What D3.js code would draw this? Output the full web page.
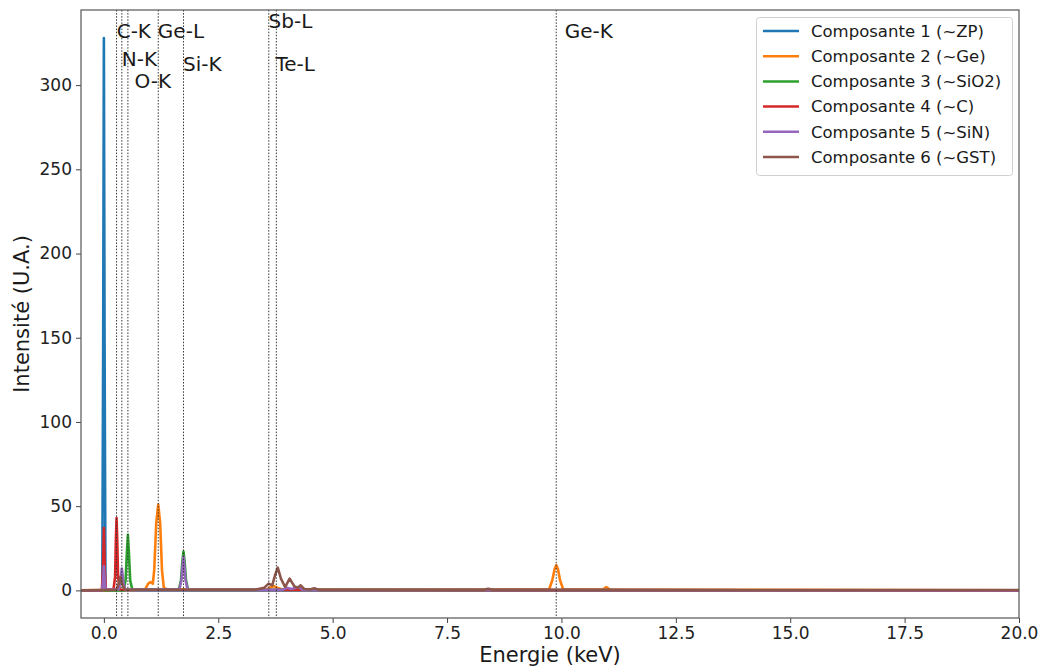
<!DOCTYPE html>
<html>
<head>
<meta charset="utf-8">
<script src="https://cdn.jsdelivr.net/npm/d3@7"></script>
<style>
  html, body { margin: 0; padding: 0; background: #fff; }
  svg { display: block; font-family: "DejaVu Sans", sans-serif; }
</style>
</head>
<body>
<svg id="chart" width="1043" height="671"></svg>
<script>
// ---------------- DATA ----------------
const seriesNames = [
  "Composante 1 (~ZP)",
  "Composante 2 (~Ge)",
  "Composante 3 (~SiO2)",
  "Composante 4 (~C)",
  "Composante 5 (~SiN)",
  "Composante 6 (~GST)"
];

// Component 1 (~ZP)
const energy1 = [-0.5, -0.035, -0.015, 0.0, 0.015, 0.035, 20.0];
const intensity1 = [0, 0, 150, 328, 150, 0, 0];

// Component 2 (~Ge)
const energy2 = [-0.5, 0.6, 0.9, 0.97, 1.02, 1.07, 1.1, 1.145, 1.188, 1.23, 1.27, 1.31, 1.4, 3.55, 3.65, 3.72, 3.8, 3.9, 8.0, 9.73, 9.8, 9.85, 9.886, 9.925, 9.97, 10.04, 10.9, 10.98, 11.06, 20.0];
const intensity2 = [0, 0.3, 0.6, 4, 5, 4, 12, 40, 51, 40, 12, 1.5, 0.6, 0.5, 2, 2.5, 1.5, 0.5, 0.4, 0.5, 6, 12.5, 15, 12.5, 6, 0.5, 0.5, 2, 0.5, 0];

// Component 3 (~SiO2)
const energy3 = [-0.5, 0.43, 0.475, 0.502, 0.525, 0.548, 0.575, 0.62, 1.64, 1.685, 1.715, 1.74, 1.765, 1.795, 1.84, 20.0];
const intensity3 = [0, 0, 6, 22, 33, 22, 6, 0.5, 0.5, 6, 17, 23, 17, 6, 0.3, 0];

// Component 4 (~C)
const energy4 = [-0.5, -0.045, -0.02, 0.0, 0.02, 0.045, 0.21, 0.245, 0.262, 0.277, 0.292, 0.31, 0.345, 0.5, 20.0];
const intensity4 = [0, 0, 12, 37, 12, 0.5, 0.5, 8, 30, 43, 30, 8, 0.5, 0.3, 0];

// Component 5 (~SiN)
const energy5 = [-0.5, -0.04, -0.017, 0.0, 0.017, 0.04, 0.32, 0.36, 0.392, 0.425, 0.465, 1.65, 1.695, 1.722, 1.74, 1.758, 1.785, 1.83, 3.9, 4.0, 4.1, 4.25, 4.35, 20.0];
const intensity5 = [0, 0, 6, 14.5, 6, 0.5, 0.5, 5, 13, 5, 0.5, 0.5, 6, 15, 20, 15, 6, 0.3, 0.3, 1.5, 0.8, 2, 0.3, 0];

// Component 6 (~GST)
const energy6 = [-0.5, 0.27, 0.325, 0.36, 0.395, 0.46, 3.3, 3.5, 3.6, 3.68, 3.74, 3.8, 3.87, 3.96, 4.06, 4.16, 4.24, 4.3, 4.38, 4.5, 4.6, 4.7, 8.3, 8.4, 8.5, 20.0];
const intensity6 = [0, 0.3, 4, 8, 4, 0.4, 0.4, 1.5, 4, 3, 9, 13.5, 7, 2, 7, 2.5, 1.5, 3, 0.8, 0.5, 1.2, 0.3, 0.3, 1, 0.3, 0.2];

// X-ray lines: energy (keV), label, label x (keV), label y (U.A.)
const lineNames = ["C-K", "N-K", "O-K", "Ge-L", "Si-K", "Sb-L", "Te-L", "Ge-K"];
const lineEnergies = [0.277, 0.392, 0.525, 1.188, 1.740, 3.604, 3.769, 9.886];
const labelX = [0.28, 0.39, 0.67, 1.18, 1.73, 3.6, 3.75, 10.07];
const labelY = [332.5, 315.5, 302.5, 332.5, 313, 338.5, 313, 332.5];

const xTicks = [0, 2.5, 5, 7.5, 10, 12.5, 15, 17.5, 20];
const yTicks = [0, 50, 100, 150, 200, 250, 300];

// ---------------- STYLE ----------------
const colors = ["#1f77b4", "#ff7f0e", "#2ca02c", "#d62728", "#9467bd", "#8c564b"];

const plot = { left: 81, right: 1019, top: 10, bottom: 618 };

const svg = d3.select("#chart");

const x = d3.scaleLinear().domain([-0.5, 20]).range([plot.left, plot.right]);
const y = d3.scaleLinear().domain([-16.4, 344.6]).range([plot.bottom, plot.top]);

const energies = [energy1, energy2, energy3, energy4, energy5, energy6];
const intensities = [intensity1, intensity2, intensity3, intensity4, intensity5, intensity6];
const series = energies.map((e, i) => e.map((v, j) => [v, intensities[i][j]]));

svg.append("defs").append("clipPath").attr("id", "clip")
  .append("rect")
  .attr("x", plot.left).attr("y", plot.top)
  .attr("width", plot.right - plot.left).attr("height", plot.bottom - plot.top);

const g = svg.append("g").attr("clip-path", "url(#clip)");

const line = d3.line().x(d => x(d[0])).y(d => y(d[1]));

series.forEach((s, i) => {
  g.append("path")
    .datum(s)
    .attr("fill", "none")
    .attr("stroke", colors[i])
    .attr("stroke-width", 2.6)
    .attr("stroke-linejoin", "round")
    .attr("d", line);
});

lineEnergies.forEach((e, i) => {
  g.append("line")
    .attr("x1", x(e)).attr("x2", x(e))
    .attr("y1", plot.top).attr("y2", plot.bottom)
    .attr("stroke", "#333")
    .attr("stroke-width", 1)
    .attr("stroke-dasharray", "1.5,1.6");
  svg.append("text")
    .attr("x", x(labelX[i]))
    .attr("y", y(labelY[i]) + 7.3)
    .attr("font-size", 20)
    .attr("fill", "#1a1a1a")
    .text(lineNames[i]);
});

const xAxis = d3.axisBottom(x).tickValues(xTicks).tickFormat(d3.format(".1f")).tickSize(5).tickPadding(4);
const yAxis = d3.axisLeft(y).tickValues(yTicks).tickFormat(d3.format("d")).tickSize(5).tickPadding(4);

const gx = svg.append("g").attr("transform", `translate(0,${plot.bottom})`).call(xAxis);
const gy = svg.append("g").attr("transform", `translate(${plot.left},0)`).call(yAxis);
[gx, gy].forEach(a => {
  a.select(".domain").remove();
  a.selectAll("line").attr("stroke", "#444");
  a.selectAll("text").attr("font-size", 17).attr("fill", "#222")
    .attr("font-family", "DejaVu Sans, sans-serif");
});

svg.append("rect")
  .attr("x", plot.left).attr("y", plot.top)
  .attr("width", plot.right - plot.left).attr("height", plot.bottom - plot.top)
  .attr("fill", "none").attr("stroke", "#555").attr("stroke-width", 1.2);

svg.append("text")
  .attr("x", (plot.left + plot.right) / 2).attr("y", 662)
  .attr("text-anchor", "middle").attr("font-size", 21).attr("fill", "#1a1a1a")
  .text("Energie (keV)");
svg.append("text")
  .attr("transform", `translate(29,${(plot.top + plot.bottom) / 2}) rotate(-90)`)
  .attr("text-anchor", "middle").attr("font-size", 21).attr("fill", "#1a1a1a")
  .text("Intensité (U.A.)");

const lg = svg.append("g");
lg.append("rect")
  .attr("x", 756.5).attr("y", 17.5).attr("width", 256).attr("height", 158)
  .attr("rx", 3).attr("fill", "#fff").attr("fill-opacity", 0.85)
  .attr("stroke", "#d0d0d0").attr("stroke-width", 1);
seriesNames.forEach((n, i) => {
  const yy = 31 + i * 25.2;
  lg.append("line")
    .attr("x1", 763).attr("x2", 799).attr("y1", yy).attr("y2", yy)
    .attr("stroke", colors[i]).attr("stroke-width", 2.5);
  lg.append("text")
    .attr("x", 811).attr("y", yy + 5.8)
    .attr("font-size", 16.5).attr("fill", "#1a1a1a")
    .text(n);
});
</script>
</body>
</html>
